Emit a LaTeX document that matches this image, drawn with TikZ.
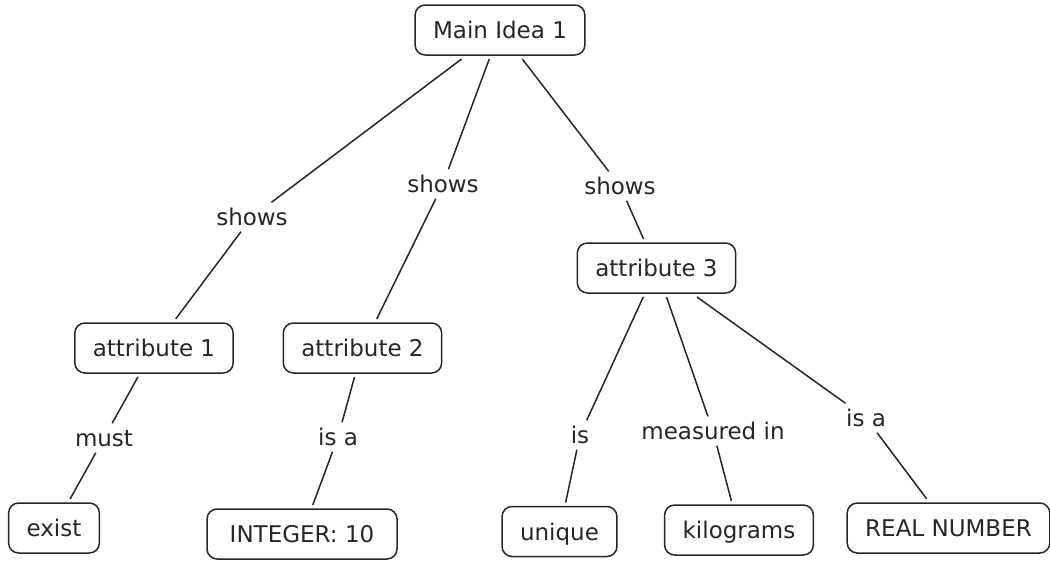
\documentclass[tikz,border=0pt]{standalone}
\usepackage{fontspec}
\setmainfont{DejaVu Sans}
\usetikzlibrary{positioning}

\begin{document}
\begin{tikzpicture}[
    x=1pt, y=-1pt,
    concept/.style={
        rectangle,
        draw=black!85,
        rounded corners=10pt,
        line width=1.5pt,
        inner xsep=18pt,
        minimum height=50pt,
        text height=17pt,
        text depth=0pt,
        outer sep=4pt,
        text=black!85,
        font=\fontsize{23}{27}\selectfont
    },
    link/.style={
        inner sep=6pt,
        text height=17pt,
        text depth=0pt,
        text=black!85,
        font=\fontsize{23}{27}\selectfont
    },
    conn/.style={draw=black!85, line width=1.5pt}
]
\useasboundingbox (0,0) rectangle (1050,560);

% Concepts
\node[concept] (main) at (500,30) {Main Idea 1};
\node[concept] (attr1) at (154,348) {attribute 1};
\node[concept] (attr2) at (362.5,348) {attribute 2};
\node[concept] (attr3) at (656.5,268) {attribute 3};
\node[concept] (exist) at (54,528) {exist};
\node[concept, minimum width=190pt] (integer) at (302,534) {INTEGER: 10};
\node[concept] (unique) at (559.5,531.5) {unique};
\node[concept] (kilo) at (739,530) {kilograms};
\node[concept] (real) at (948.5,528) {REAL NUMBER};

% Link phrases
\node[link] (shows1) at (252,217) {shows};
\node[link] (shows2) at (443,184) {shows};
\node[link] (shows3) at (620,186) {shows};
\node[link] (must) at (104,438) {must};
\node[link] (isa1) at (338,437) {is a};
\node[link] (is) at (580,435) {is};
\node[link] (measured) at (713,431) {measured in};
\node[link] (isa2) at (866,418) {is a};

% Lines
\draw[conn] (main) -- (shows1);
\draw[conn] (shows1) -- (attr1);
\draw[conn] (main) -- (shows2);
\draw[conn] (shows2) -- (attr2);
\draw[conn] (main) -- (shows3);
\draw[conn] (shows3) -- (attr3);
\draw[conn] (attr1) -- (must);
\draw[conn] (must) -- (exist);
\draw[conn] (attr2) -- (isa1);
\draw[conn] (isa1) -- (integer);
\draw[conn] (attr3) -- (is);
\draw[conn] (is) -- (unique);
\draw[conn] (attr3) -- (measured);
\draw[conn] (measured) -- (kilo);
\draw[conn] (attr3) -- (isa2);
\draw[conn] (isa2) -- (real);

\end{tikzpicture}
\end{document}
